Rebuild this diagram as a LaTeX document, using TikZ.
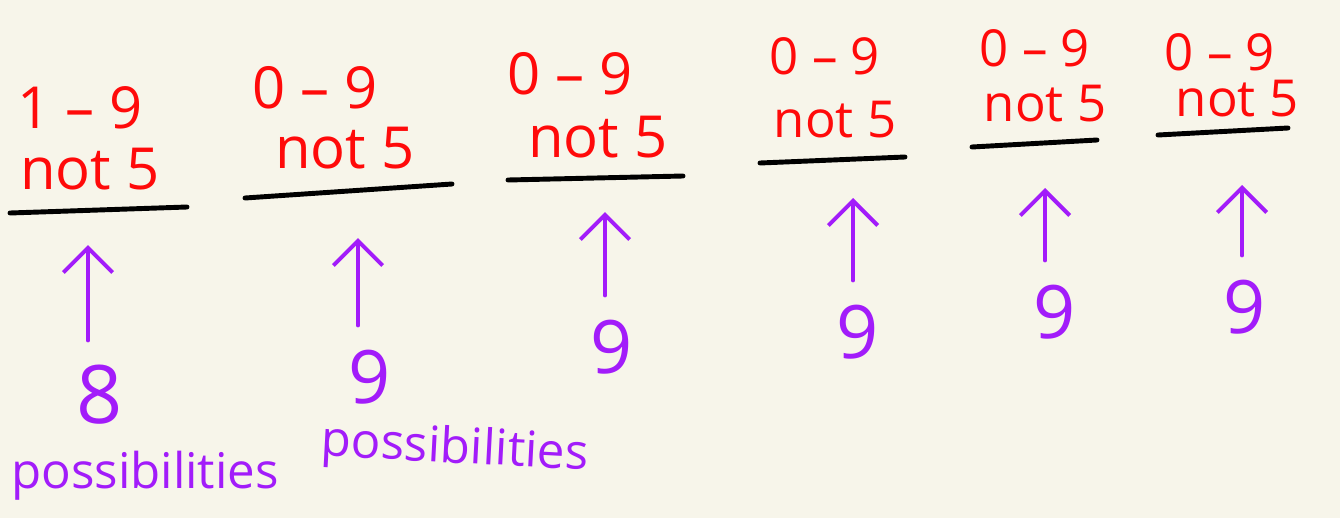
\documentclass[tikz,border=0pt]{standalone}
\usepackage{fontspec}
\setmainfont{Open Sans}
\usetikzlibrary{arrows.meta,positioning}
\definecolor{paper}{HTML}{F7F5EA}
\definecolor{inkred}{HTML}{FF0A0A}
\definecolor{inkpurple}{HTML}{A21CFA}

\begin{document}
\begin{tikzpicture}[
    x=0.02cm, y=-0.02cm,
    digits/.style={text=inkred, font=\fontsize{33}{38}\selectfont, anchor=base, inner sep=0pt},
    smalldigits/.style={digits, font=\fontsize{29}{34}\selectfont},
    rule/.style={draw=black, line width=2.8pt, line cap=round},
    count/.style={text=inkpurple, font=\fontsize{42}{46}\selectfont, anchor=north, inner sep=0pt},
    note/.style={text=inkpurple, font=\fontsize{28}{32}\selectfont, inner sep=0pt},
    uparrow/.style={-{Straight Barb[length=14pt, width=28pt, line width=2.3pt]}, draw=inkpurple, line width=2.3pt, line cap=round, shorten <=14pt}
  ]
    \fill[paper] (0,0) rectangle (1340,518);
    \useasboundingbox (0,0) rectangle (1340,518);
    % first digit
    \node[digits] (r1) at (80,128) {1 -- 9};
    \node[digits] (x1) at (90,189) {not 5};
    \coordinate (s1a) at (10,213);
    \coordinate (s1b) at (187,207);
    \draw[rule] (s1a) -- (s1b);
    \coordinate (t1) at (88,245);
    \node[count, font=\fontsize{46}{50}\selectfont] (n1) at (100,365) {8};
    \draw[uparrow] (n1.north -| t1) -- (t1);
    \node[note] (p1) at (145,476) {possibilities};
    % second digit
    \node[digits] (r2) at (315,108) {0 -- 9};
    \node[digits] (x2) at (345,168) {not 5};
    \coordinate (s2a) at (245,198);
    \coordinate (s2b) at (452,184);
    \draw[rule] (s2a) -- (s2b);
    \coordinate (t2) at (358,238);
    \node[count] (n2) at (370,350) {9};
    \draw[uparrow] (n2.north -| t2) -- (t2);
    \node[note, rotate=-3] (p2) at (455,450) {possibilities};
    % third digit
    \node[digits] (r3) at (570,94) {0 -- 9};
    \node[digits] (x3) at (598,157) {not 5};
    \coordinate (s3a) at (508,180);
    \coordinate (s3b) at (683,176);
    \draw[rule] (s3a) -- (s3b);
    \coordinate (t3) at (605,212);
    \node[count] (n3) at (612,320) {9};
    \draw[uparrow] (n3.north -| t3) -- (t3);
    % fourth digit
    \node[smalldigits] (r4) at (825,74) {0 -- 9};
    \node[smalldigits] (x4) at (835,137) {not 5};
    \coordinate (s4a) at (760,163);
    \coordinate (s4b) at (905,157);
    \draw[rule] (s4a) -- (s4b);
    \coordinate (t4) at (853,198);
    \node[count] (n4) at (858,305) {9};
    \draw[uparrow] (n4.north -| t4) -- (t4);
    % fifth digit
    \node[smalldigits] (r5) at (1035,66) {0 -- 9};
    \node[smalldigits] (x5) at (1045,121) {not 5};
    \coordinate (s5a) at (972,147);
    \coordinate (s5b) at (1097,140);
    \draw[rule] (s5a) -- (s5b);
    \coordinate (t5) at (1045,188);
    \node[count] (n5) at (1055,285) {9};
    \draw[uparrow] (n5.north -| t5) -- (t5);
    % sixth digit
    \node[smalldigits] (r6) at (1220,70) {0 -- 9};
    \node[smalldigits] (x6) at (1237,116) {not 5};
    \coordinate (s6a) at (1158,135);
    \coordinate (s6b) at (1288,128);
    \draw[rule] (s6a) -- (s6b);
    \coordinate (t6) at (1242,185);
    \node[count] (n6) at (1245,280) {9};
    \draw[uparrow] (n6.north -| t6) -- (t6);
  \end{tikzpicture}
\end{document}
